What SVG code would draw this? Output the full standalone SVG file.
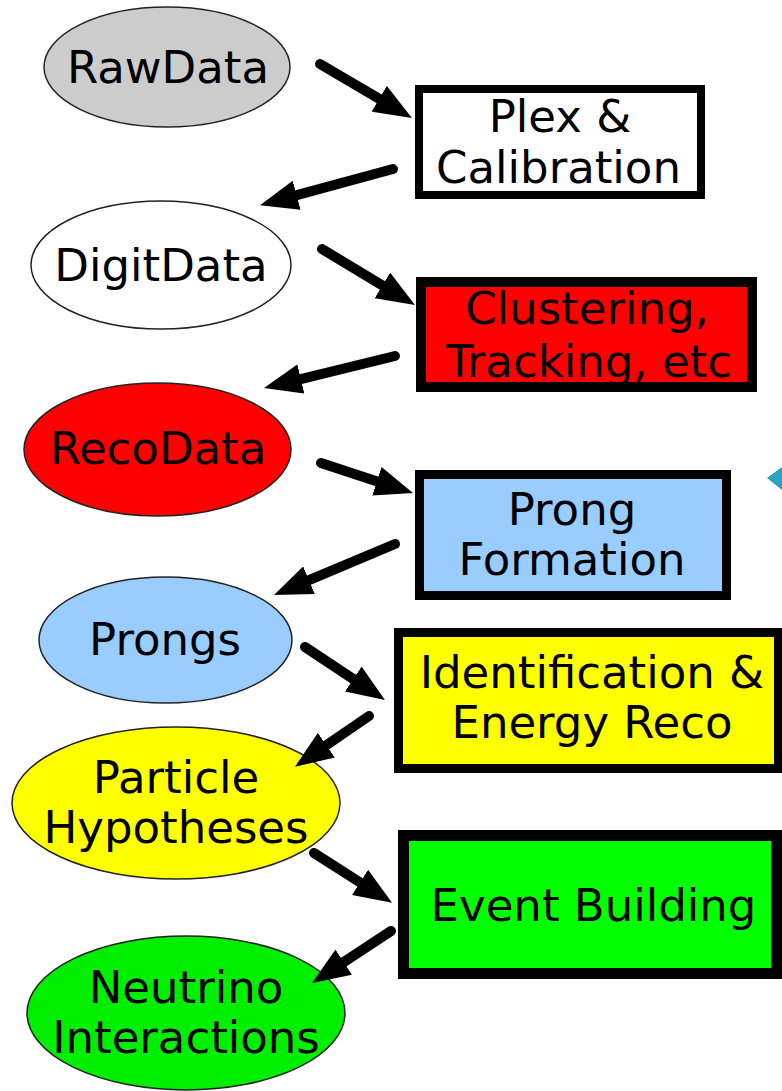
<svg xmlns="http://www.w3.org/2000/svg" width="782" height="1091" viewBox="0 0 782 1091">
  <style>
    .lbl { font-family: "DejaVu Sans", "Liberation Sans", sans-serif; font-size: 45px; fill: #000; text-anchor: middle; }
    .data { stroke: #222; stroke-width: 1.5; }
    .step { stroke: #000; }
    .flow { stroke: #000; stroke-width: 10; stroke-linecap: round; fill: none; marker-end: url(#head); }
  </style>
  <defs>
    <marker id="head" viewBox="0 -15 38 30" markerUnits="userSpaceOnUse" markerWidth="38" markerHeight="30" refX="18" refY="0" orient="auto">
      <path d="M0,-15 L38,0 L0,15 z" fill="#000"/>
    </marker>
  </defs>

  <!-- data products (ellipses) -->
  <g id="rawdata">
    <ellipse class="data" cx="167" cy="67" rx="123" ry="60" fill="#cccccc"/>
    <text class="lbl" x="168" y="83">RawData</text>
  </g>
  <g id="digitdata">
    <ellipse class="data" cx="161" cy="265" rx="130" ry="64" fill="#ffffff"/>
    <text class="lbl" x="161" y="281">DigitData</text>
  </g>
  <g id="recodata">
    <ellipse class="data" cx="157.5" cy="449.5" rx="133.5" ry="66.5" fill="#ff0000"/>
    <text class="lbl" x="158" y="464">RecoData</text>
  </g>
  <g id="prongs">
    <ellipse class="data" cx="165.5" cy="640" rx="126.5" ry="63" fill="#99ccff"/>
    <text class="lbl" x="165" y="655">Prongs</text>
  </g>
  <g id="particle-hypotheses">
    <ellipse class="data" cx="176" cy="803" rx="164" ry="76" fill="#ffff00"/>
    <text class="lbl" x="176" y="793">Particle</text>
    <text class="lbl" x="176" y="843">Hypotheses</text>
  </g>
  <g id="neutrino-interactions">
    <ellipse class="data" cx="186" cy="1013" rx="159" ry="77" fill="#00ee00"/>
    <text class="lbl" x="186" y="1003">Neutrino</text>
    <text class="lbl" x="186" y="1053">Interactions</text>
  </g>

  <!-- processing steps (boxes) -->
  <g id="plex-calibration">
    <rect class="step" x="419" y="89" width="282" height="106" fill="#ffffff" stroke-width="8"/>
    <text class="lbl" x="560" y="132">Plex &amp;</text>
    <text class="lbl" x="558.5" y="183">Calibration</text>
  </g>
  <g id="clustering-tracking">
    <rect class="step" x="421" y="282" width="331" height="105" fill="#ff0000" stroke-width="10"/>
    <text class="lbl" x="587" y="324">Clustering,</text>
    <text class="lbl" x="589" y="377">Tracking, etc</text>
  </g>
  <g id="prong-formation">
    <rect class="step" x="419.5" y="474.5" width="307" height="121" fill="#99ccff" stroke-width="9"/>
    <text class="lbl" x="572" y="525">Prong</text>
    <text class="lbl" x="572" y="575">Formation</text>
  </g>
  <g id="identification-energy">
    <rect class="step" x="398.5" y="632.5" width="380" height="136" fill="#ffff00" stroke-width="9"/>
    <text class="lbl" x="592" y="688">Identification &amp;</text>
    <text class="lbl" x="592" y="738">Energy Reco</text>
  </g>
  <g id="event-building">
    <rect class="step" x="403.5" y="835.5" width="373" height="138" fill="#00ff00" stroke-width="11"/>
    <text class="lbl" x="593.5" y="921">Event Building</text>
  </g>

  <!-- connectors -->
  <g id="connectors">
    <line class="flow" x1="320" y1="64" x2="394.7" y2="107.9"/>
    <line class="flow" x1="393" y1="169" x2="279.3" y2="199.9"/>
    <line class="flow" x1="322" y1="249" x2="397.8" y2="294.7"/>
    <line class="flow" x1="395" y1="356" x2="283.4" y2="383.3"/>
    <line class="flow" x1="321" y1="463" x2="394.0" y2="486.9"/>
    <line class="flow" x1="395" y1="544" x2="292.4" y2="587.2"/>
    <line class="flow" x1="305" y1="647" x2="368.3" y2="689"/>
    <line class="flow" x1="369" y1="716" x2="311.5" y2="755.4"/>
    <line class="flow" x1="314" y1="853" x2="375.2" y2="892.1"/>
    <line class="flow" x1="391" y1="931" x2="328.7" y2="972"/>
  </g>

  <!-- small teal pointer at the right edge -->
  <polygon points="767,478 782,467 782,490" fill="#2ba3c2"/>
</svg>
